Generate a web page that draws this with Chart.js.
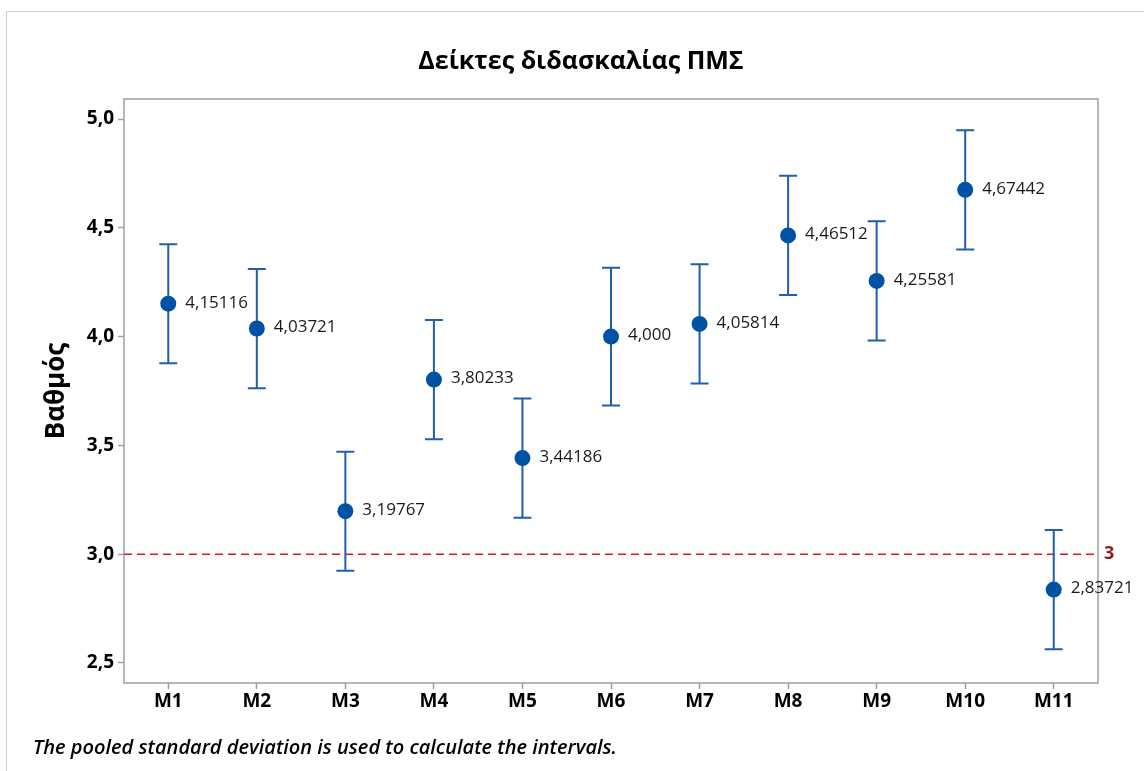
<!DOCTYPE html>
<html>
<head>
<meta charset="utf-8">
<script src="https://cdn.jsdelivr.net/npm/chart.js@4"></script>
<style>
  html, body { margin: 0; padding: 0; background: #fff; }
  #wrap { position: relative; width: 1144px; height: 771px; }
</style>
</head>
<body>
<div id="wrap"><canvas id="grafico" width="1144" height="771"></canvas></div>
<script>
const categorias = ['M1', 'M2', 'M3', 'M4', 'M5', 'M6', 'M7', 'M8', 'M9', 'M10', 'M11'];
const medias = [4.15116, 4.03721, 3.19767, 3.80233, 3.44186, 4.000, 4.05814, 4.46512, 4.25581, 4.67442, 2.83721];
const rotulos = ['4,15116', '4,03721', '3,19767', '3,80233', '3,44186', '4,000', '4,05814', '4,46512', '4,25581', '4,67442', '2,83721'];
const limiteInferior = [3.877, 3.763, 2.924, 3.528, 3.168, 3.683, 3.784, 4.191, 3.982, 4.400, 2.563];
const limiteSuperior = [4.425, 4.311, 3.471, 4.076, 3.716, 4.317, 4.332, 4.739, 4.530, 4.948, 3.111];
const ticksY = [2.5, 3.0, 3.5, 4.0, 4.5, 5.0];
const referencia = 3;

const azul = '#0052a5';
const corBarra = '#1f5fae';
const cinza = '#a0a0a0';

// desenha intervalos, rotulos, linha de referencia e textos
const extras = {
    id: 'extras',
    beforeDatasetsDraw(chart) {
        const { ctx, chartArea: a, scales: { x, y } } = chart;
        ctx.save();
        // moldura externa
        ctx.strokeStyle = '#d0d0d0';
        ctx.lineWidth = 1;
        ctx.strokeRect(6.5, 11.5, 1160, 800);
        // moldura do grafico
        ctx.strokeStyle = cinza;
        ctx.lineWidth = 1.5;
        ctx.strokeRect(a.left, a.top, a.right - a.left, a.bottom - a.top);
        // linha de referencia
        const yr = y.getPixelForValue(referencia);
        ctx.strokeStyle = '#e8141c';
        ctx.lineWidth = 1.5;
        ctx.setLineDash([8, 5]);
        ctx.beginPath();
        ctx.moveTo(a.left, yr);
        ctx.lineTo(a.right, yr);
        ctx.stroke();
        ctx.setLineDash([]);
        ctx.fillStyle = '#8b1a1a';
        ctx.font = 'bold 18px "Open Sans"';
        ctx.textBaseline = 'middle';
        ctx.textAlign = 'left';
        ctx.fillText(String(referencia), a.right + 6, yr);
        // intervalos
        ctx.strokeStyle = corBarra;
        ctx.lineWidth = 2;
        medias.forEach((m, i) => {
            const px = x.getPixelForValue(i);
            const y1 = y.getPixelForValue(limiteSuperior[i]);
            const y2 = y.getPixelForValue(limiteInferior[i]);
            ctx.beginPath();
            ctx.moveTo(px, y1); ctx.lineTo(px, y2);
            ctx.moveTo(px - 9, y1); ctx.lineTo(px + 9, y1);
            ctx.moveTo(px - 9, y2); ctx.lineTo(px + 9, y2);
            ctx.stroke();
        });
        ctx.restore();
    },
    afterDatasetsDraw(chart) {
        const { ctx, scales: { x, y } } = chart;
        ctx.save();
        ctx.fillStyle = '#1a1a1a';
        ctx.font = '17px "Open Sans"';
        ctx.textBaseline = 'middle';
        ctx.textAlign = 'left';
        medias.forEach((m, i) => {
            ctx.fillText(rotulos[i], x.getPixelForValue(i) + 17, y.getPixelForValue(m) - 1);
        });
        // titulo
        ctx.fillStyle = '#000';
        ctx.textAlign = 'center';
        ctx.font = 'bold 25px "Open Sans"';
        ctx.fillText('Δείκτες διδασκαλίας ΠΜΣ', 581, 62);
        // titulo do eixo y
        ctx.save();
        ctx.translate(57, (chart.chartArea.top + chart.chartArea.bottom) / 2);
        ctx.rotate(-Math.PI / 2);
        ctx.font = 'bold 26px "Open Sans"';
        ctx.fillText('Βαθμός', 0, 0);
        ctx.restore();
        // nota
        ctx.textAlign = 'left';
        ctx.font = 'italic 600 20px "Open Sans"';
        ctx.fillText('The pooled standard deviation is used to calculate the intervals.', 33, 748);
        ctx.restore();
    }
};

const ctx = document.getElementById('grafico').getContext('2d');
const grafico = new Chart(ctx, {
    type: 'line',
    data: {
        labels: categorias,
        datasets: [{
            data: medias,
            showLine: false,
            pointRadius: 8,
            pointHoverRadius: 8,
            pointBackgroundColor: azul,
            pointBorderColor: azul,
            pointBorderWidth: 0
        }]
    },
    plugins: [extras],
    options: {
        responsive: false,
        animation: false,
        layout: { padding: { left: 0, top: 99, right: 46, bottom: 48 } },
        plugins: {
            legend: { display: false },
            tooltip: { enabled: false },
            title: { display: false }
        },
        scales: {
            x: {
                offset: true,
                grid: { display: true, drawOnChartArea: false, tickLength: 6, color: cinza, tickWidth: 1.5 },
                border: { display: false },
                ticks: { color: '#000', font: { family: 'Open Sans', weight: 'bold', size: 19 }, padding: 1 },
                afterFit: s => { s.height = 40; }
            },
            y: {
                min: 2.408,
                max: 5.092,
                grid: { display: true, drawOnChartArea: false, tickLength: 6, color: cinza, tickWidth: 1.5 },
                border: { display: false },
                afterBuildTicks: s => { s.ticks = ticksY.map(v => ({ value: v })); },
                ticks: {
                    color: '#000',
                    font: { family: 'Open Sans', weight: 'bold', size: 19 },
                    padding: 4,
                    callback: v => v.toFixed(1).replace('.', ',')
                },
                afterFit: s => { s.width = 124; }
            }
        }
    }
});
</script>
</body>
</html>
